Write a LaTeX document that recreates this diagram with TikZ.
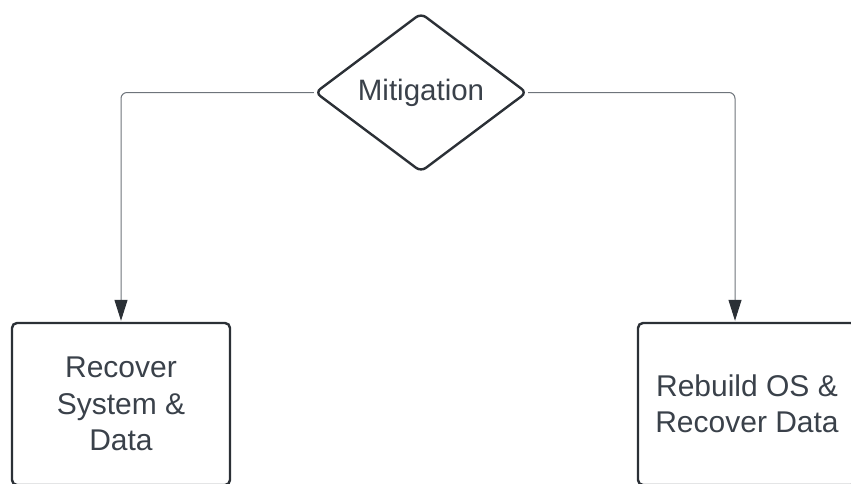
\documentclass[tikz,border=0pt]{standalone}
\usepackage{fontspec}
\setmainfont{Liberation Sans}
\usetikzlibrary{shapes.geometric,arrows.meta}
\definecolor{inkdark}{HTML}{2B3036}
\definecolor{textgray}{HTML}{3A414A}
\definecolor{linegray}{HTML}{6E747B}
\tikzset{
  decision/.style={diamond, draw=inkdark, line width=2.4pt, rounded corners=6pt,
    minimum width=212pt, minimum height=159pt, inner sep=0pt,
    text=textgray, font=\fontsize{29.5}{36.5}\selectfont},
  stepbox/.style={rectangle, draw=inkdark, line width=2.4pt, rounded corners=5pt,
    minimum width=218pt, minimum height=162pt, inner sep=0pt, align=center,
    text=textgray, font=\fontsize{30}{36.5}\selectfont},
  conn/.style={draw=linegray, line width=1pt, rounded corners=6pt,
    -{Triangle[width=13pt,length=21pt,color=inkdark]}, shorten >=1pt}
}
\begin{document}
\begin{tikzpicture}[x=1pt,y=-1pt]
  \useasboundingbox (0,0) rectangle (851,483);
  \clip (0,0) rectangle (851,483);
  \node[decision] (mit) at (421,92.5) {Mitigation};
  \node[stepbox] (rec) at (121,404) {Recover\\System \&\\Data};
  \node[stepbox] (reb) at (747,404) {Rebuild OS \&\\Recover Data};
  \draw[conn] (mit.west) -| (rec.north);
  \draw[conn] (mit.east) -| ([xshift=-12pt]reb.north);
\end{tikzpicture}
\end{document}
